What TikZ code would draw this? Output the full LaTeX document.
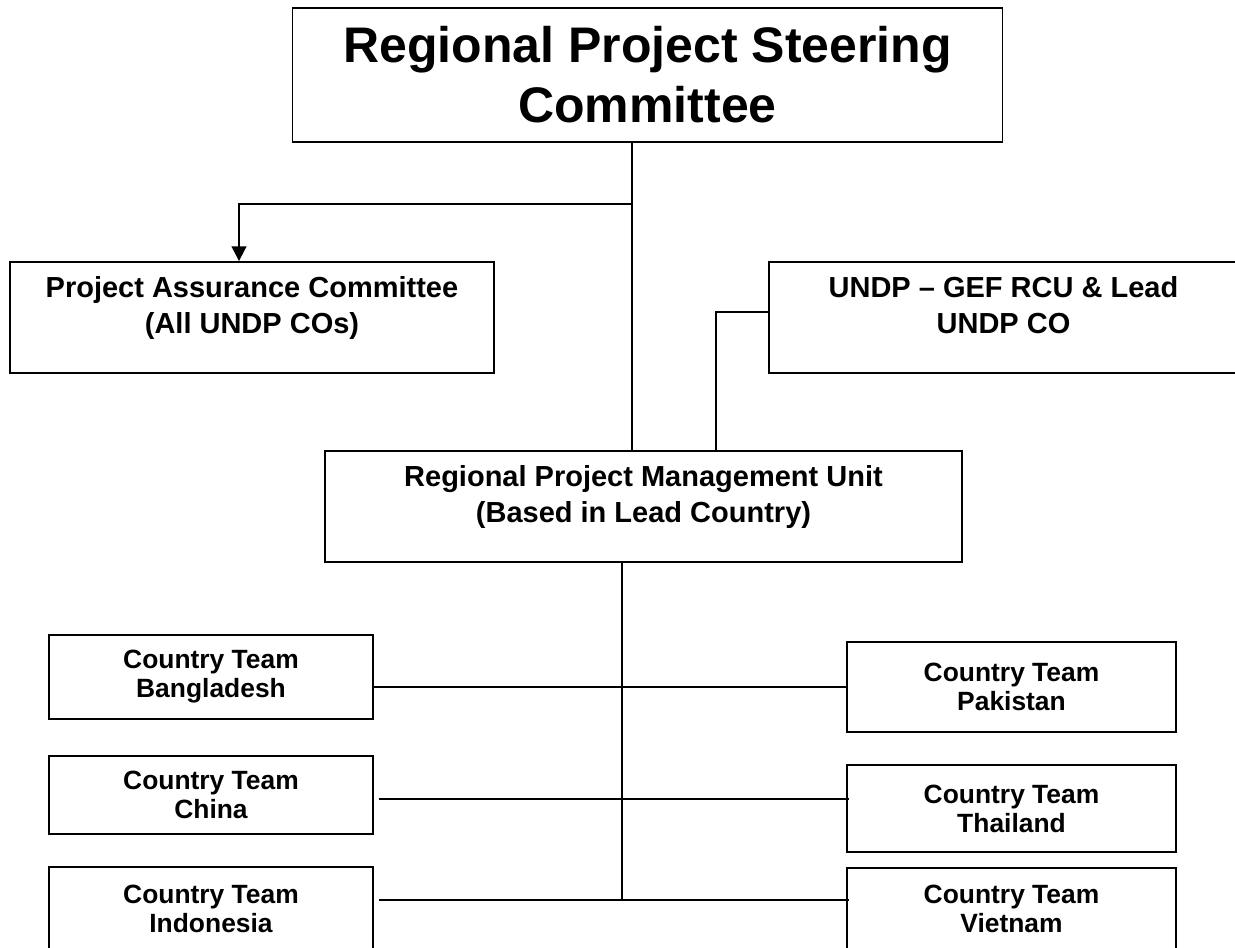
\documentclass[tikz,border=0pt]{standalone}
\usepackage{fontspec}
\setmainfont{Liberation Sans}
\usepackage{tikz}
\usetikzlibrary{calc}
\usetikzlibrary{arrows.meta}
\newcommand{\toptxt}[3]{\parbox[c][#2][t]{#1}{\centering\vspace*{10.5pt}#3}}

\begin{document}
\begin{tikzpicture}[x=0.75pt, y=-0.75pt]
    \tikzset{
      unit/.style={draw, rectangle, line width=1.4pt, inner sep=0pt, align=center},
      bigtxt/.style={font=\fontsize{37.5}{45}\selectfont\bfseries},
      midtxt/.style={font=\fontsize{21.75}{27.5}\selectfont\bfseries},
      teamtxt/.style={font=\fontsize{19.8}{21.75}\selectfont\bfseries},
      team/.style={unit, teamtxt},
      link/.style={draw, line width=1.4pt},
      arrow/.style={link, -{Triangle[width=11pt, length=11pt]}}
    }
    \useasboundingbox (0,0) rectangle (1235,948);
    \node [unit, bigtxt, minimum width=532.5pt, minimum height=100.5pt] (rpsc) at (647.5,75) {Regional Project Steering\\Committee};
    \node [unit, midtxt] (pac) at (252,317.5) {\toptxt{363pt}{83.25pt}{Project Assurance Committee\\(All UNDP COs)}};
    \node [unit, midtxt] (undp) at (1003.5,317.5) {\toptxt{351.75pt}{83.25pt}{UNDP -- GEF RCU \& Lead\\UNDP CO}};
    \node [unit, midtxt] (rpmu) at (643.5,506.5) {\toptxt{477.75pt}{83.25pt}{Regional Project Management Unit\\(Based in Lead Country)}};

    \node [team, minimum width=243pt, minimum height=63pt] (bgd) at (211,677) {Country Team\\Bangladesh};
    \node [team, minimum width=243pt, minimum height=58.5pt] (chn) at (211,795) {Country Team\\China};
    \node [team, minimum width=243pt, minimum height=62.25pt] (idn) at (211,908.5) {Country Team\\Indonesia};
    \node [team, minimum width=246.75pt, minimum height=67.5pt] (pak) at (1011.5,687) {Country Team\\Pakistan};
    \node [team, minimum width=246.75pt, minimum height=65.25pt] (tha) at (1011.5,808.5) {Country Team\\Thailand};
    \node [team, minimum width=246.75pt, minimum height=61.5pt] (vnm) at (1011.5,909) {Country Team\\Vietnam};

    \coordinate (split) at (632,204);
    \coordinate (hub) at (622,900);

    \path [link] (rpsc.south -| split) -- (rpmu.north -| split);
    \path [arrow] (split) -| ($(pac.north)+(-13,0)$);
    \path [link] ($(undp.west)+(0,-5.5)$) -| ($(rpmu.north)+(72.5,0)$);
    \path [link] (rpmu.south -| hub) -- (hub);
    \path [link] (bgd.east |- pak.west) -- (pak.west);
    \path [link] ($(chn.east)+(5,4)$) -- ($(chn.east -| tha.west)+(3,4)$);
    \path [link] ($(idn.east)+(5,-8.5)$) -- ($(idn.east -| vnm.west)+(3,-8.5)$);
\end{tikzpicture}
\end{document}
